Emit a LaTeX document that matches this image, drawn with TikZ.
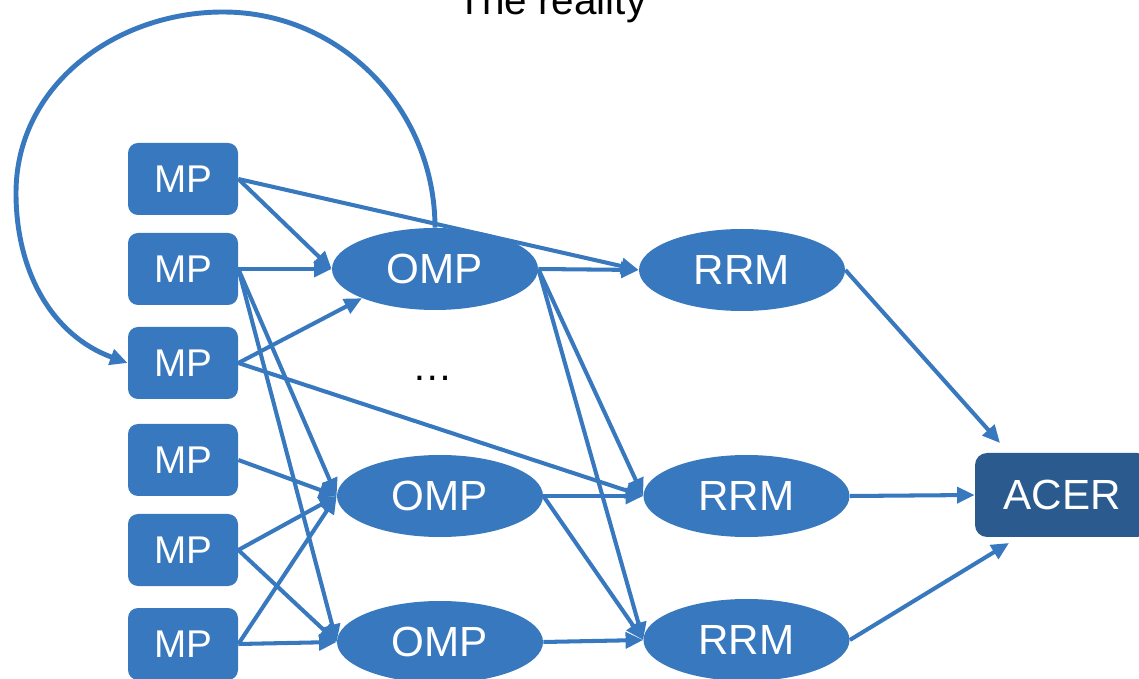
\documentclass[tikz,border=0pt]{standalone}
\usepackage{fontspec}
\setmainfont{Liberation Sans}
\usetikzlibrary{arrows.meta,shapes.geometric}
\definecolor{boxblue}{RGB}{56,120,190}
\definecolor{acerblue}{RGB}{43,91,142}

\begin{document}
\begin{tikzpicture}
        [mp/.style={rectangle, rounded corners=0.2cm, fill=boxblue, text=white, minimum width=2.2cm, minimum height=1.44cm, inner sep=0pt, font=\fontsize{22}{24}\selectfont},
        oval/.style={ellipse, fill=boxblue, text=white, minimum width=4.12cm, minimum height=1.64cm, inner sep=0pt, font=\fontsize{24}{26}\selectfont},
        acer/.style={rectangle, rounded corners=0.24cm, fill=acerblue, text=white, minimum width=3.48cm, minimum height=1.68cm, inner sep=0pt, font=\fontsize{24}{26}\selectfont},
        link/.style={line width=2.3pt, boxblue, -{Triangle[length=10pt,width=9pt]}}]
        \useasboundingbox (0,0) rectangle (22.78,-13.58);

        \node[anchor=base, font=\fontsize{23}{26}\selectfont] (title) at (11.04,-0.3) {The reality};

        \node[mp] (MP1) at (3.66,-3.58) {MP};
        \node[mp] (MP2) at (3.66,-5.38) {MP};
        \node[mp] (MP3) at (3.66,-7.26) {MP};
        \node[mp] (MP4) at (3.66,-9.2) {MP};
        \node[mp] (MP5) at (3.66,-11.0) {MP};
        \node[mp] (MP6) at (3.66,-12.88) {MP};

        \node[oval] (OMP1) at (8.7,-5.38) {OMP};
        \node[oval] (OMP2) at (8.8,-9.92) {OMP};
        \node[oval] (OMP3) at (8.8,-12.84) {OMP};
        \node[font=\fontsize{23}{26}\selectfont] (dots) at (8.66,-7.56) {…};

        \node[oval] (RRM1) at (14.84,-5.4) {RRM};
        \node[oval] (RRM2) at (14.93,-9.92) {RRM};
        \node[oval] (RRM3) at (14.93,-12.8) {RRM};

        \node[acer] (ACER) at (21.24,-9.9) {ACER};

        \coordinate (loopTop) at (4.46,-0.24);
        \coordinate (loopLeft) at (0.32,-3.86);
        \coordinate (acerTop) at (20.0,-8.86);
        \coordinate (acerBottom) at (20.18,-10.86);

        \draw[link, line width=2.8pt] (OMP1.north) to[out=90,in=0] (loopTop) to[out=180,in=90] (loopLeft) to[out=-90,in=160] (MP3.west);

        \draw[link] (MP1.east) -- (OMP1.west);
        \draw[link] (MP1.east) -- (RRM1.west);
        \draw[link] (MP2.east) -- (OMP1.west);
        \draw[link] (MP2.east) -- (OMP2.west);
        \draw[link] (MP2.east) -- (OMP3.west);
        \draw[link] (MP3.east) -- (OMP1.south west);
        \draw[link] (MP3.east) -- (RRM2.west);
        \draw[link] (MP4.east) -- (OMP2.west);
        \draw[link] (MP5.east) -- (OMP2.west);
        \draw[link] (MP5.east) -- (OMP3.west);
        \draw[link] (MP6.east) -- (OMP2.west);
        \draw[link] (MP6.east) -- (OMP3.west);

        \draw[link] (OMP1.east) -- (RRM1.west);
        \draw[link] (OMP1.east) -- (RRM2.west);
        \draw[link] (OMP1.east) -- (RRM3.west);
        \draw[link] (OMP2.east) -- (RRM2.west);
        \draw[link] (OMP2.east) -- (RRM3.west);
        \draw[link] (OMP3.east) -- (RRM3.west);

        \draw[link] (RRM1.east) -- (acerTop);
        \draw[link] (RRM2.east) -- (ACER.west);
        \draw[link] (RRM3.east) -- (acerBottom);
    \end{tikzpicture}
\end{document}
